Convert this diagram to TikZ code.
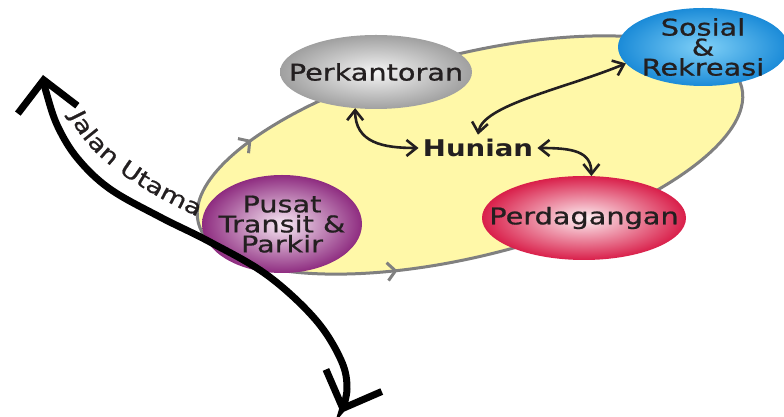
\documentclass[tikz,border=0pt]{standalone}
\usepackage{fontspec}
\newfontfamily\diagfont[FakeStretch=1.25, FakeBold=0.8]{DejaVu Sans}
\newfontfamily\hubfont[FakeStretch=1.2]{DejaVu Sans Bold}
\usetikzlibrary{calc, positioning}
\usetikzlibrary{arrows.meta}
\usetikzlibrary{shapes.geometric}
\usetikzlibrary{decorations.markings, decorations.text}
\definecolor{zoneyellow}{HTML}{FFF8A8}
\definecolor{zoneline}{HTML}{808080}
\definecolor{textdark}{HTML}{231F20}
\definecolor{officeout}{HTML}{A0A0A0}
\definecolor{officein}{HTML}{F5F5F5}
\definecolor{socialout}{HTML}{1B8BD8}
\definecolor{socialin}{HTML}{7FD0F7}
\definecolor{tradeout}{HTML}{D91F4A}
\definecolor{tradein}{HTML}{FDF0F3}
\definecolor{transitout}{HTML}{8E2C80}
\definecolor{transitin}{HTML}{F8EAF4}
\def\roadwidth{3.5pt}
\def\linkwidth{1.3pt}
\tikzset{
    area/.style = {
        ellipse, inner sep=0pt, outer sep=0pt
    },
    caption/.style = {
        font=\diagfont\fontsize{11.5}{10}\selectfont, text=textdark, align=center, inner sep=0pt
    },
    link/.style = {
        line width=\linkwidth, textdark,
        {Straight Barb[length=5pt,width=8pt]}-{Straight Barb[length=5pt,width=8pt]}
    },
    road/.style = {
        line width=\roadwidth, black,
        {Straight Barb[length=15pt,width=30pt]}-{Straight Barb[length=15pt,width=30pt]}
    },
    zone/.style = {
        fill=zoneyellow, draw=zoneline, line width=1.5pt,
        postaction={decorate},
        decoration={markings,
            mark=at position 0.418 with {\arrowreversed{Straight Barb[length=4pt,width=9pt]}},
            mark=at position 0.672 with {\arrow{Straight Barb[length=4pt,width=9pt]}}}
    }
}

\begin{document}
\begin{tikzpicture}[x=0.5pt, y=0.5pt]
    \useasboundingbox (0,0) rectangle (784,417);
    % the yellow zone
    \draw[zone, rotate around={14:(470,262)}] (470,262) ellipse [x radius=280, y radius=101];
    % Place the areas
    \node[area, minimum width=96pt, minimum height=37pt, inner color=officein, outer color=officeout] (perk) at (376,345) {};
    \node[area, minimum width=85pt, minimum height=39pt, inner color=socialin, outer color=socialout] (sos) at (703,370) {};
    \node[area, minimum width=102pt, minimum height=42pt, inner color=tradein, outer color=tradeout] (perd) at (584,199) {};
    \node[area, minimum width=80pt, minimum height=49pt, inner color=transitin, outer color=transitout] (pusat) at (282,193) {};
    \node[caption] at (perk) {Perkantoran};
    \node[caption] at (sos) {Sosial\\\&\\Rekreasi};
    \node[caption] at (perd) {Perdagangan};
    \node[caption, text depth=0pt] at (pusat) {Pusat\\Transit \&\\Parkir};
    \node[caption, font=\hubfont\fontsize{11.5}{10}\selectfont, inner sep=2pt] (hun) at (478,269) {Hunian};
    % links to Hunian
    \draw[link] (perk.240) .. controls +(0,-35) and +(-35,0) .. (hun.west);
    \draw[link] (hun.north) .. controls +(5,30) and +(-60,-25) .. (sos.192);
    \draw[link] (hun.east) .. controls +(35,0) and +(0,25) .. (perd.80);
    % the main road
    \coordinate (roadN) at (43,342);
    \coordinate (roadS) at (341,4);
    \draw[road] plot[smooth, tension=0.6] coordinates {(roadN) (47,322) (58,290) (78,258)
        (110,228) (160,200) (210,175) (267,142) (315,98) (341,57) (347,28) (roadS)};
    \path[decorate, decoration={text along path, text align=center,
            text={|\diagfont\fontsize{11}{10}\selectfont\color{textdark}|Jalan Utama}}]
        (70,300) .. controls (86,266) and (122,236) .. (196,201);
\end{tikzpicture}
\end{document}
